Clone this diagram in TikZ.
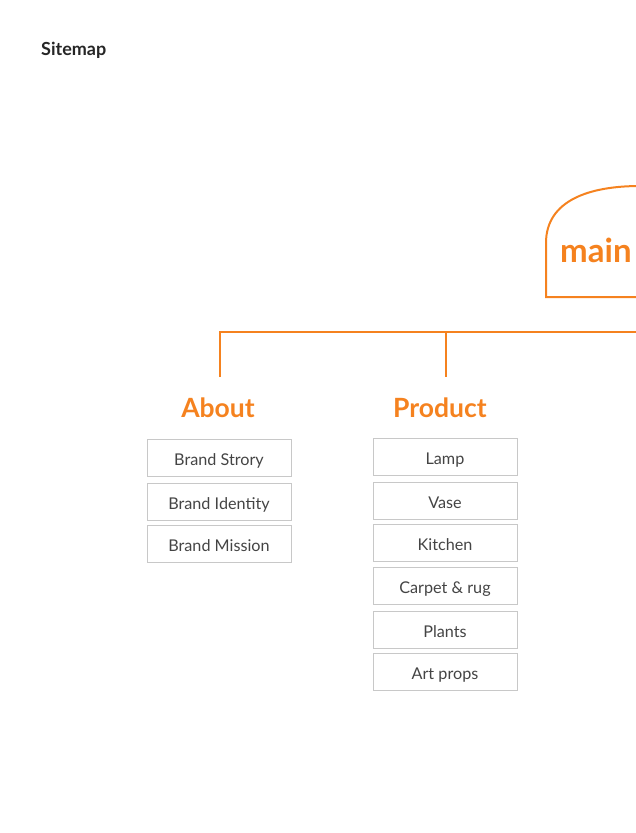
\documentclass[tikz,border=0pt]{standalone}
\usepackage{fontspec}
\setmainfont{Lato}
\definecolor{orng}{HTML}{F5821F}
\definecolor{txtgray}{HTML}{444444}
\definecolor{boxgray}{HTML}{C8C8C8}
\begin{document}
\begin{tikzpicture}[x=1pt,y=-1pt,
  item/.style={draw=boxgray,line width=0.8pt,minimum width=144pt,minimum height=37pt,inner sep=0pt,text height=15pt,text depth=0pt,text=txtgray,font=\fontsize{16.2}{16}\selectfont},
  head/.style={text=orng,font=\fontsize{26.5}{26}\selectfont\bfseries,inner sep=0pt,anchor=base},
  conn/.style={draw=orng,line width=2pt}]
\useasboundingbox (0,0) rectangle (636,833);
\node[anchor=base west,inner sep=0pt,text=black!85,font=\fontsize{18}{18}\selectfont\bfseries] (title) at (41,55.5) {Sitemap};
% main shape
\draw[orng,line width=2pt] (640,297) -- (546,297) -- (546,243) .. controls (546,200) and (590,186) .. (640,186);
\node[anchor=base west,text=orng,inner sep=0pt,font=\fontsize{33}{33}\selectfont\bfseries] (main) at (560,262) {main};
% connectors
\coordinate (hl) at (220,332);
\coordinate (hr) at (640,332);
\coordinate (hp) at (446,332);
\coordinate (va) at (220,377);
\coordinate (vp) at (446,377);
\draw[conn] (va) -- (hl) -- (hr);
\draw[conn] (hp) -- (vp);
% headings
\node[head] (about) at (218,417) {About};
\node[head] (product) at (440,417) {Product};
% about items
\node[item] (a1) at (219,457.5) {Brand Strory};
\node[item] (a2) at (219,501.5) {Brand Identity};
\node[item] (a3) at (219,543.5) {Brand Mission};
% product items
\node[item] (p1) at (445,456.5) {Lamp};
\node[item] (p2) at (445,500.5) {Vase};
\node[item] (p3) at (445,542.5) {Kitchen};
\node[item] (p4) at (445,585.5) {Carpet \& rug};
\node[item] (p5) at (445,629.5) {Plants};
\node[item] (p6) at (445,671.5) {Art props};
\end{tikzpicture}
\end{document}
